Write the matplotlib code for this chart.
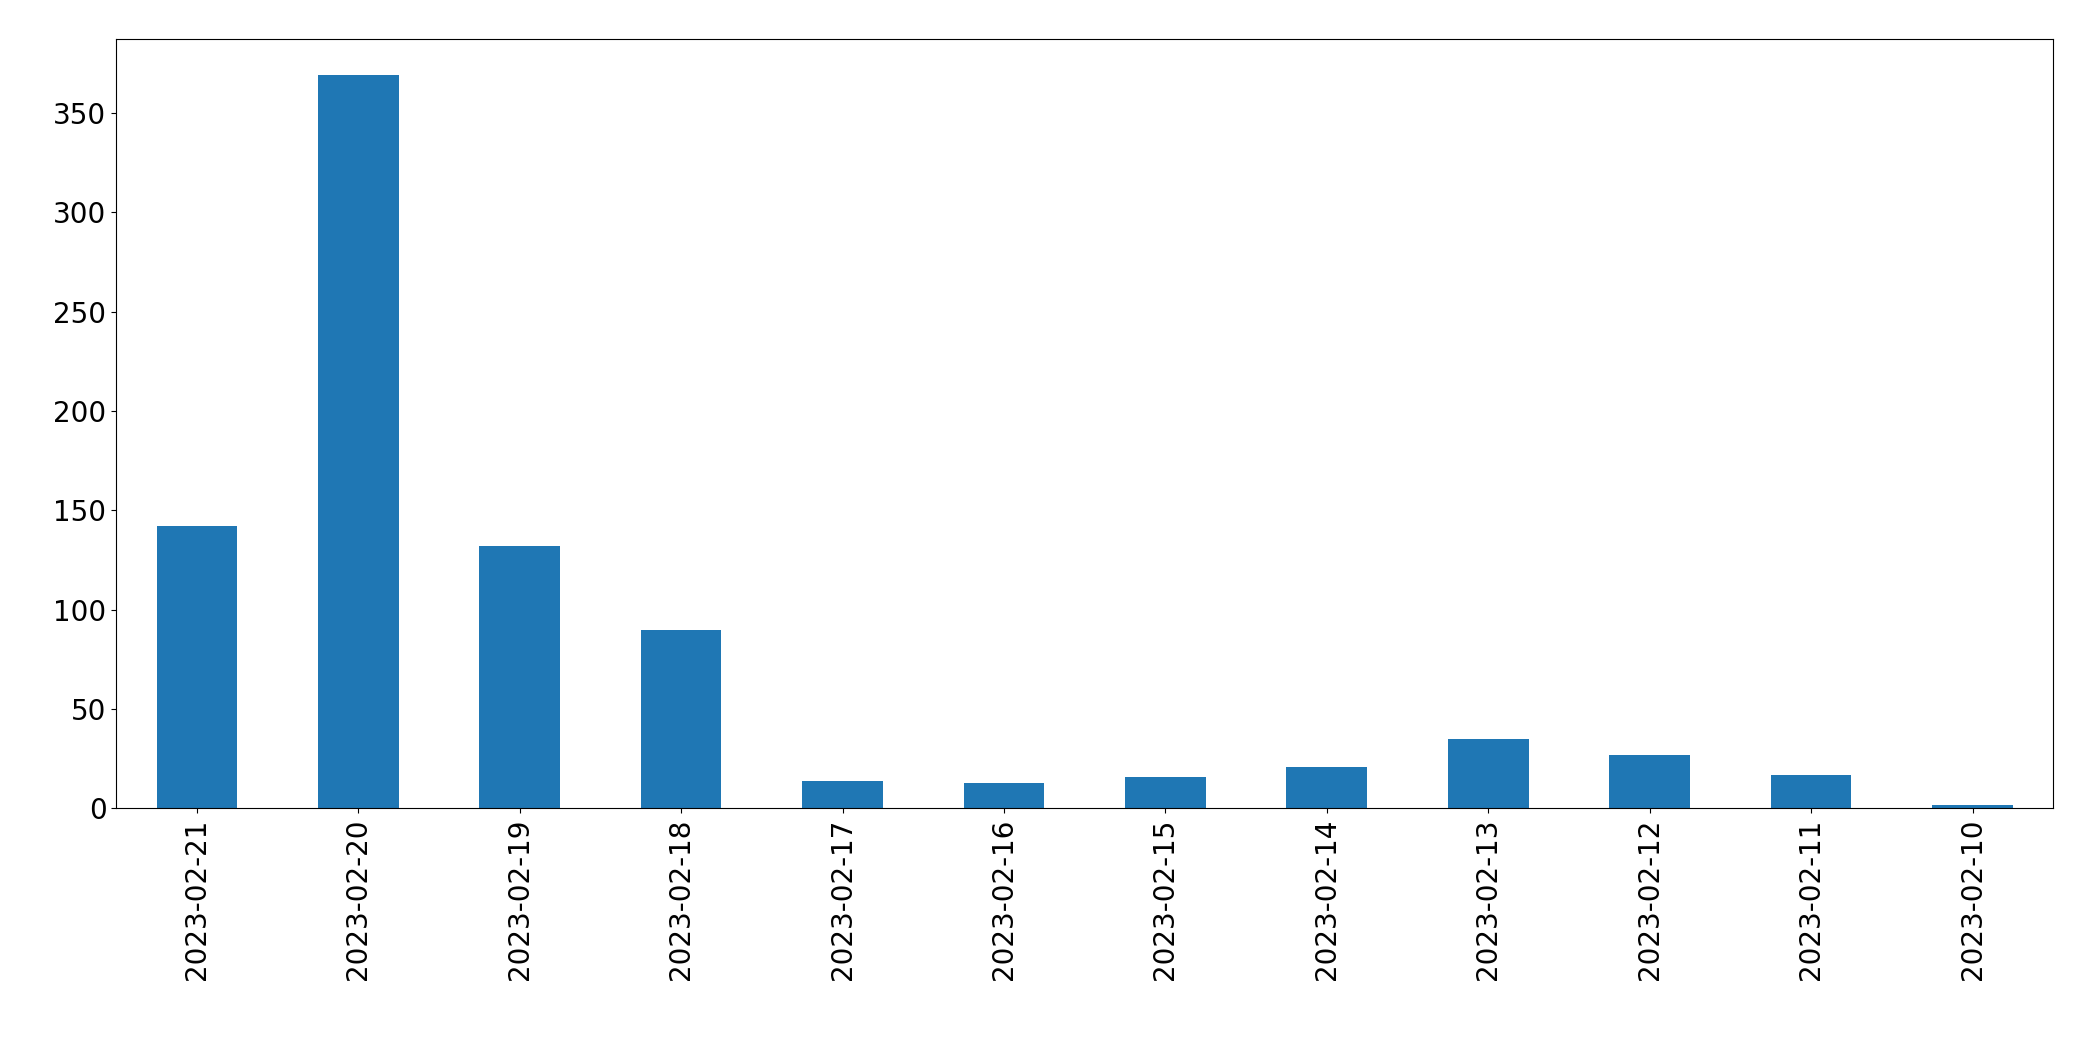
import matplotlib
matplotlib.use("Agg")
import matplotlib.pyplot as plt

dates = ["2023-02-21","2023-02-20","2023-02-19","2023-02-18","2023-02-17","2023-02-16",
         "2023-02-15","2023-02-14","2023-02-13","2023-02-12","2023-02-11","2023-02-10"]
counts = [142, 369, 132, 90, 14, 13, 16, 21, 35, 27, 17, 2]

fig = plt.figure(figsize=(20.93, 10.61), dpi=100)
ax = fig.add_axes([0.0555, 0.238, 0.9255, 0.7255])
x = range(len(dates))
ax.bar(x, counts, width=0.5, color="#1f77b4")
ax.set_xlim(-0.5, len(dates) - 0.5)
ax.set_xticks(list(x))
ax.set_xticklabels(dates, rotation=90)
ax.tick_params(labelsize=20)
fig.savefig("out.png", dpi=100)
